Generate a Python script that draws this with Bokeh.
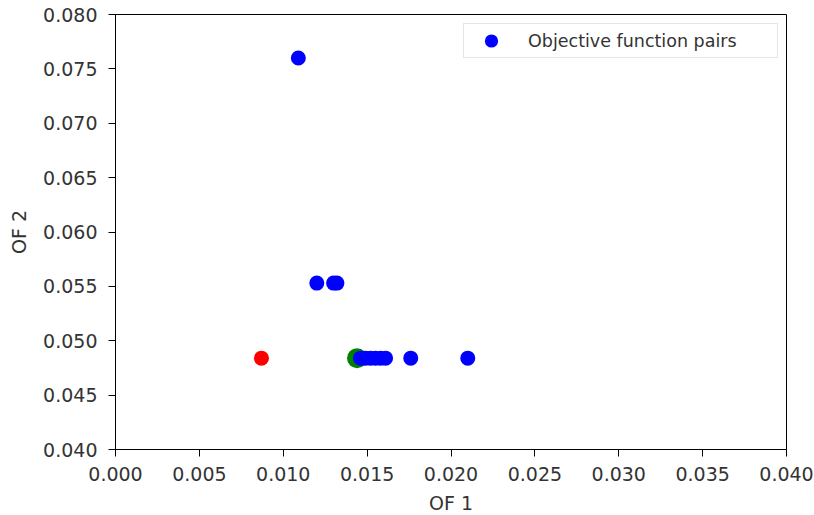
from bokeh.plotting import figure
from bokeh.models import Legend, LegendItem, FixedTicker, Range1d
from bokeh.embed import file_html
from bokeh.resources import INLINE

# Objective function pairs (OF 1, OF 2)
of1_pairs = [0.0109, 0.0120, 0.0130, 0.0132,
             0.0146, 0.0149, 0.0152, 0.0155, 0.0158, 0.0161,
             0.0176, 0.0210]
of2_pairs = [0.0760, 0.0553, 0.0553, 0.0553,
             0.0484, 0.0484, 0.0484, 0.0484, 0.0484, 0.0484,
             0.0484, 0.0484]

# Highlighted solutions
best_of1 = [0.0087]
best_of2 = [0.0484]
chosen_of1 = [0.0144]
chosen_of2 = [0.0484]

x_ticks = [0.000, 0.005, 0.010, 0.015, 0.020, 0.025, 0.030, 0.035, 0.040]
y_ticks = [0.040, 0.045, 0.050, 0.055, 0.060, 0.065, 0.070, 0.075, 0.080]

FONT = "DejaVu Sans"
TEXT = "#333333"

p = figure(frame_width=671, frame_height=435,
           output_backend="svg", toolbar_location=None,
           x_range=Range1d(x_ticks[0], x_ticks[-1]),
           y_range=Range1d(y_ticks[0], y_ticks[-1]),
           min_border_left=115, min_border_right=28,
           min_border_top=14, min_border_bottom=66)

p.background_fill_color = "white"
p.border_fill_color = "white"
p.outline_line_color = "black"
p.outline_line_width = 1
p.xgrid.visible = False
p.ygrid.visible = False

chosen = p.scatter(chosen_of1, chosen_of2, size=20, color="#008000", line_width=0)
pairs = p.scatter(of1_pairs, of2_pairs, size=15, color="#0000ff", line_width=0)
best = p.scatter(best_of1, best_of2, size=15, color="#ff0000", line_width=0)

p.xaxis.ticker = FixedTicker(ticks=x_ticks)
p.yaxis.ticker = FixedTicker(ticks=y_ticks)
p.xaxis.major_label_overrides = {t: f"{t:.3f}" for t in x_ticks}
p.yaxis.major_label_overrides = {t: f"{t:.3f}" for t in y_ticks}
p.xaxis.axis_label = "OF 1"
p.yaxis.axis_label = "OF 2"

for ax in (p.xaxis[0], p.yaxis[0]):
    ax.axis_line_color = "black"
    ax.major_tick_line_color = "black"
    ax.major_tick_out = 7
    ax.major_tick_in = 0
    ax.minor_tick_line_color = None
    ax.major_label_text_font = FONT
    ax.major_label_text_font_size = "19px"
    ax.major_label_text_color = TEXT
    ax.axis_label_text_font = FONT
    ax.axis_label_text_font_size = "19px"
    ax.axis_label_text_font_style = "normal"
    ax.axis_label_text_color = TEXT

p.xaxis.major_label_standoff = 10
p.yaxis.major_label_standoff = 11
p.xaxis.axis_label_standoff = 8
p.yaxis.axis_label_standoff = 10

legend = Legend(items=[LegendItem(label="Objective function pairs", renderers=[pairs])],
                location=(348, 391))
legend.margin = 0
legend.padding = 0
legend.glyph_width = 54
legend.glyph_height = 33
legend.label_standoff = 10
legend.label_width = 249
legend.label_height = 31
legend.label_text_font = FONT
legend.label_text_font_size = "17.5px"
legend.label_text_color = TEXT
legend.border_line_color = "#cccccc"
legend.border_line_width = 1
legend.background_fill_color = "white"
legend.background_fill_alpha = 0.8
p.add_layout(legend)

open("out.html", "w").write(file_html(p, INLINE))
